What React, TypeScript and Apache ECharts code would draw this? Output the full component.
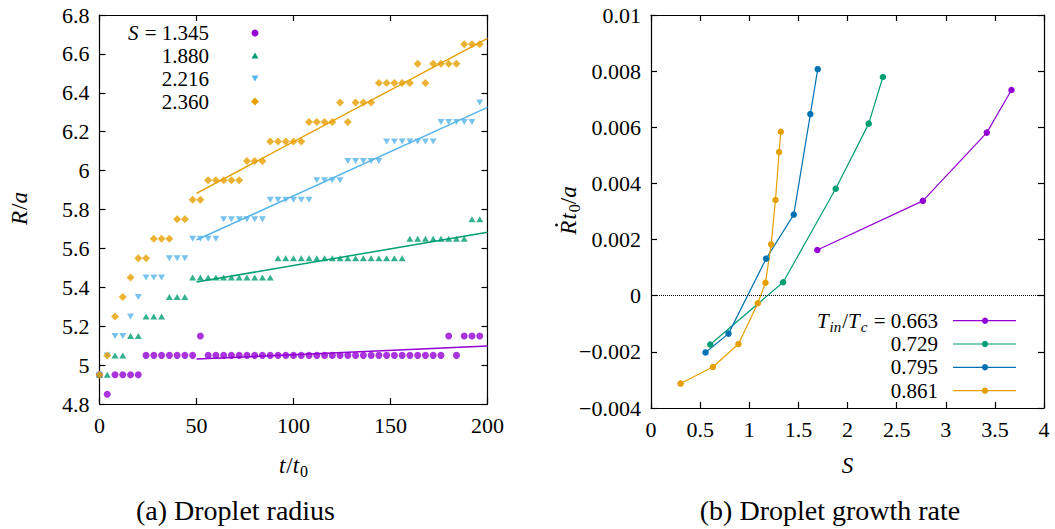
import React, { useEffect, useRef } from "react";
import * as echarts from "echarts";

const FONT = "Liberation Serif";

// ---------- (a) Droplet radius ----------
const tValues = [
  0, 4, 8, 12, 16, 20, 24, 28, 32, 36, 40, 44, 48, 52, 56, 60, 64, 68, 72, 76,
  80, 84, 88, 92, 96, 100, 104, 108, 112, 116, 120, 124, 128, 132, 136, 140, 144,
  148, 152, 156, 160, 164, 168, 172, 176, 180, 184, 188, 192, 196,
];
const rS1345 = [
  4.95, 4.85, 4.95, 4.95, 4.95, 4.95, 5.05, 5.05, 5.05, 5.05, 5.05, 5.05, 5.05, 5.15,
  5.05, 5.05, 5.05, 5.05, 5.05, 5.05, 5.05, 5.05, 5.05, 5.05,
  5.05, 5.05, 5.05, 5.05, 5.05, 5.05, 5.05, 5.05, 5.05, 5.05,
  5.05, 5.05, 5.05, 5.05, 5.05, 5.05, 5.05, 5.05, 5.05, 5.05,
  5.05, 5.15, 5.05, 5.15, 5.15, 5.15,
];
const rS1880 = [
  4.95, 4.95, 5.05, 5.05, 5.15, 5.15, 5.25, 5.25, 5.25, 5.35, 5.35, 5.35,
  5.45, 5.45, 5.45, 5.45, 5.45, 5.45, 5.45, 5.45, 5.45, 5.45, 5.45,
  5.55, 5.55, 5.55, 5.55, 5.55, 5.55, 5.55, 5.55, 5.55, 5.55, 5.55, 5.55, 5.55, 5.55, 5.55, 5.55, 5.55,
  5.65, 5.65, 5.65, 5.65, 5.65, 5.65, 5.65, 5.65,
  5.75, 5.75,
];
const rS2216 = [
  4.95, 5.05, 5.15, 5.15, 5.25, 5.35, 5.45, 5.45, 5.45, 5.55, 5.55, 5.55,
  5.65, 5.65, 5.65, 5.65,
  5.75, 5.75, 5.75, 5.75, 5.75, 5.75,
  5.85, 5.85, 5.85, 5.85, 5.85, 5.85,
  5.95, 5.95, 5.95, 5.95,
  6.05, 6.05, 6.05, 6.05, 6.05,
  6.15, 6.15, 6.15, 6.15, 6.15, 6.15, 6.15,
  6.25, 6.25, 6.25, 6.25, 6.25,
  6.35,
];
const rS2360 = [
  4.95, 5.05, 5.25, 5.35, 5.45, 5.55, 5.55, 5.65, 5.65, 5.65, 5.75, 5.75, 5.85, 5.85,
  5.95, 5.95, 5.95, 5.95, 5.95,
  6.05, 6.05, 6.05,
  6.15, 6.15, 6.15, 6.15, 6.15,
  6.25, 6.25, 6.25, 6.25,
  6.35, 6.25, 6.35, 6.35, 6.35,
  6.45, 6.45, 6.45, 6.45, 6.45,
  6.55, 6.45, 6.55, 6.55, 6.55, 6.55,
  6.65, 6.65, 6.65,
];
const fitT = [50, 200];
const fitS1345 = [5.031, 5.098];
const fitS1880 = [5.427, 5.683];
const fitS2216 = [5.643, 6.325];
const fitS2360 = [5.883, 6.68];

const leftLabels = ["1.345", "1.880", "2.216", "2.360"];
const leftColors = ["#9400d3", "#009e73", "#56b4e9", "#e69f00"];

// ---------- (b) Droplet growth rate ----------
const sT0663 = [1.693, 2.767, 3.418, 3.669];
const rateT0663 = [0.00163, 0.00338, 0.00581, 0.00733];
const sT0729 = [0.603, 1.345, 1.88, 2.216, 2.36];
const rateT0729 = [-0.00174, 0.00048, 0.00381, 0.00613, 0.00779];
const sT0795 = [0.555, 0.789, 1.172, 1.453, 1.622, 1.697];
const rateT0795 = [-0.00202, -0.00135, 0.00132, 0.00289, 0.00647, 0.00807];
const sT0861 = [0.301, 0.63, 0.89, 1.087, 1.165, 1.223, 1.267, 1.304, 1.321];
const rateT0861 = [-0.00313, -0.00254, -0.00172, -0.00027, 0.00046, 0.00183, 0.00341, 0.00512, 0.00584];

const rightLabels = ["0.663", "0.729", "0.795", "0.861"];
const rightColors = ["#9400d3", "#009e73", "#0072b2", "#e69f00"];

// ---------- helpers ----------
// approximate advance widths (em) of the serif font
const W_NORMAL: Record<string, number> = {
  "0": 0.5, "1": 0.5, "2": 0.5, "3": 0.5, "4": 0.5, "5": 0.5, "6": 0.5, "7": 0.5, "8": 0.5, "9": 0.5,
  ".": 0.25, " ": 0.25, "=": 0.564, "/": 0.278,
};
const W_ITALIC: Record<string, number> = {
  S: 0.5, T: 0.556, R: 0.611, t: 0.278, a: 0.5, i: 0.278, n: 0.5, c: 0.444,
};
function textWidth(t: string, it: boolean, fs: number) {
  let w = 0;
  for (const ch of t) w += ((it ? W_ITALIC[ch] : W_NORMAL[ch]) ?? 0.5) * fs;
  return w;
}

type Piece = { t: string; it?: boolean; sub?: boolean; dot?: boolean };

function mathGroup(pieces: Piece[], size: number, x: number, y: number, align: string, rotation = 0) {
  const widths = pieces.map((p) => textWidth(p.t, !!p.it, p.sub ? Math.round(size * 0.7) : size) + (p.it ? 1 : 0));
  const total = widths.reduce((a, b) => a + b, 0);
  let cx = align === "right" ? -total : align === "center" ? -total / 2 : 0;
  const els: any[] = [];
  pieces.forEach((p, i) => {
    const fs = p.sub ? Math.round(size * 0.7) : size;
    els.push({
      type: "text",
      x: cx,
      y: p.sub ? size * 0.28 : 0,
      silent: true,
      style: {
        text: p.t,
        fontSize: fs,
        fontFamily: FONT,
        fontStyle: p.it ? "italic" : "normal",
        fill: "#000",
        textAlign: "left",
        textVerticalAlign: "middle",
        align: "left",
        verticalAlign: "middle",
      },
    });
    if (p.dot) {
      els.push({
        type: "circle",
        silent: true,
        shape: { cx: cx + size * 0.42, cy: -size * 0.5, r: 1.4 },
        style: { fill: "#000" },
      });
    }
    cx += widths[i];
  });
  return { type: "group", x, y, rotation, children: els };
}

function pairs(xs: number[], ys: number[]) {
  return xs.map((x, i) => [x, ys[i]]);
}

const axisLineStyle = { color: "#000", width: 1.2 };
const labelStyle = { color: "#000", fontFamily: FONT, fontSize: 22, margin: 10 };

function valueAxis(gridIndex: number, position: string, min: number, max: number, interval: number, showLabel: boolean, fmt?: (v: number) => string) {
  return {
    type: "value",
    gridIndex,
    position,
    min,
    max,
    interval,
    axisLine: { show: true, onZero: false, lineStyle: axisLineStyle },
    axisTick: { show: true, inside: true, length: 6, lineStyle: axisLineStyle },
    axisLabel: showLabel ? { ...labelStyle, formatter: fmt } : { show: false },
    splitLine: { show: false },
  };
}

const fmtLeftY = (v: number) => String(parseFloat(v.toFixed(1)));
const fmtInt = (v: number) => String(Math.round(v));
const fmtRightX = (v: number) => String(parseFloat(v.toFixed(1)));
const fmtRightY = (v: number) => String(parseFloat(v.toFixed(3))).replace("-", "\u2212");

export default function App() {
  const ref = useRef<HTMLDivElement>(null);

  useEffect(() => {
    if (!ref.current) return;
    const chart = echarts.init(ref.current, null, { renderer: "svg" });

    const leftSets = [rS1345, rS1880, rS2216, rS2360];
    const leftFits = [fitS1345, fitS1880, fitS2216, fitS2360];
    const leftSymbols: any[] = [
      { symbol: "circle", symbolSize: 7, symbolRotate: 0 },
      { symbol: "triangle", symbolSize: [7, 6], symbolRotate: 0 },
      { symbol: "triangle", symbolSize: [7, 6], symbolRotate: 180 },
      { symbol: "diamond", symbolSize: [8, 8], symbolRotate: 0 },
    ];

    const series: any[] = [];
    leftSets.forEach((r, i) => {
      series.push({
        type: "scatter",
        name: "S=" + leftLabels[i],
        xAxisIndex: 0,
        yAxisIndex: 0,
        data: pairs(tValues, r),
        ...leftSymbols[i],
        itemStyle: { color: leftColors[i] },
        silent: true,
      });
    });
    leftFits.forEach((f, i) => {
      series.push({
        type: "line",
        name: "fit " + leftLabels[i],
        xAxisIndex: 0,
        yAxisIndex: 0,
        data: pairs(fitT, f),
        showSymbol: false,
        symbol: "none",
        lineStyle: { color: leftColors[i], width: 1.5 },
        silent: true,
      });
    });

    const rightS = [sT0663, sT0729, sT0795, sT0861];
    const rightR = [rateT0663, rateT0729, rateT0795, rateT0861];
    rightS.forEach((s, i) => {
      const ser: any = {
        type: "line",
        name: "Tin/Tc=" + rightLabels[i],
        xAxisIndex: 2,
        yAxisIndex: 2,
        data: pairs(s, rightR[i]),
        symbol: "circle",
        symbolSize: 6.5,
        showSymbol: true,
        itemStyle: { color: rightColors[i] },
        lineStyle: { color: rightColors[i], width: 1.2 },
        silent: true,
      };
      if (i === 0) {
        ser.markLine = {
          silent: true,
          symbol: "none",
          label: { show: false },
          lineStyle: { type: "dotted", color: "#000", width: 1 },
          data: [{ yAxis: 0 }],
        };
      }
      series.push(ser);
    });

    const graphics: any[] = [];
    // left legend
    const leftLegY = [33, 55.5, 78.5, 101.5];
    leftLabels.forEach((lab, i) => {
      const pieces: Piece[] = i === 0 ? [{ t: "S", it: true }, { t: " = " }, { t: lab }] : [{ t: lab }];
      graphics.push(mathGroup(pieces, 21, 209, leftLegY[i], "right"));
    });
    const mx = 255;
    graphics.push({ type: "circle", shape: { cx: mx, cy: leftLegY[0], r: 3.5 }, style: { fill: leftColors[0] }, silent: true });
    graphics.push({
      type: "polygon",
      shape: { points: [[mx - 3.5, leftLegY[1] + 3], [mx + 3.5, leftLegY[1] + 3], [mx, leftLegY[1] - 3]] },
      style: { fill: leftColors[1] },
      silent: true,
    });
    graphics.push({
      type: "polygon",
      shape: { points: [[mx - 3.5, leftLegY[2] - 3], [mx + 3.5, leftLegY[2] - 3], [mx, leftLegY[2] + 3]] },
      style: { fill: leftColors[2] },
      silent: true,
    });
    graphics.push({
      type: "polygon",
      shape: { points: [[mx - 4, leftLegY[3]], [mx, leftLegY[3] - 4], [mx + 4, leftLegY[3]], [mx, leftLegY[3] + 4]] },
      style: { fill: leftColors[3] },
      silent: true,
    });

    // right legend
    const rightLegY = [320.7, 344, 367.3, 390.7];
    rightLabels.forEach((lab, i) => {
      const pieces: Piece[] =
        i === 0
          ? [
              { t: "T", it: true },
              { t: "in", it: true, sub: true },
              { t: "/" },
              { t: "T", it: true },
              { t: "c", it: true, sub: true },
              { t: " = " },
              { t: lab },
            ]
          : [{ t: lab }];
      graphics.push(mathGroup(pieces, 21, 938, rightLegY[i], "right"));
      graphics.push({
        type: "line",
        shape: { x1: 953, y1: rightLegY[i], x2: 1016, y2: rightLegY[i] },
        style: { stroke: rightColors[i], lineWidth: 1.2 },
        silent: true,
      });
      graphics.push({
        type: "circle",
        shape: { cx: 985, cy: rightLegY[i], r: 3.2 },
        style: { fill: rightColors[i] },
        silent: true,
      });
    });

    // axis names
    graphics.push(mathGroup([{ t: "R", it: true }, { t: "/" }, { t: "a", it: true }], 23, 19, 208, "center", Math.PI / 2));
    graphics.push(
      mathGroup([{ t: "t", it: true }, { t: "/" }, { t: "t", it: true }, { t: "0", sub: true }], 23, 293.5, 465, "center")
    );
    graphics.push(
      mathGroup(
        [{ t: "R", it: true, dot: true }, { t: "t", it: true }, { t: "0", sub: true }, { t: "/" }, { t: "a", it: true }],
        23,
        568,
        210,
        "center",
        Math.PI / 2
      )
    );
    graphics.push(mathGroup([{ t: "S", it: true }], 23, 848, 465, "center"));

    // captions
    graphics.push({
      type: "text",
      x: 235.5,
      y: 510,
      silent: true,
      style: { text: "(a) Droplet radius", fontSize: 28, fontFamily: FONT, fill: "#000", textAlign: "center", textVerticalAlign: "middle", align: "center", verticalAlign: "middle" },
    });
    graphics.push({
      type: "text",
      x: 830,
      y: 510,
      silent: true,
      style: { text: "(b) Droplet growth rate", fontSize: 28, fontFamily: FONT, fill: "#000", textAlign: "center", textVerticalAlign: "middle", align: "center", verticalAlign: "middle" },
    });

    chart.setOption({
      animation: false,
      backgroundColor: "#fff",
      grid: [
        { left: 99.5, top: 15, width: 388, height: 389, containLabel: false },
        { left: 651, top: 15, width: 393, height: 393, containLabel: false },
      ],
      xAxis: [
        valueAxis(0, "bottom", 0, 200, 50, true, fmtInt),
        valueAxis(0, "top", 0, 200, 50, false),
        valueAxis(1, "bottom", 0, 4, 0.5, true, fmtRightX),
        valueAxis(1, "top", 0, 4, 0.5, false),
      ],
      yAxis: [
        valueAxis(0, "left", 4.8, 6.8, 0.2, true, fmtLeftY),
        valueAxis(0, "right", 4.8, 6.8, 0.2, false),
        valueAxis(1, "left", -0.004, 0.01, 0.002, true, fmtRightY),
        valueAxis(1, "right", -0.004, 0.01, 0.002, false),
      ],
      series,
      graphic: { elements: graphics },
    });

    return () => chart.dispose();
  }, []);

  return (
    <div
      ref={ref}
      style={{ position: "absolute", left: 0, top: 0, width: 1055, height: 529, background: "#fff" }}
    />
  );
}
